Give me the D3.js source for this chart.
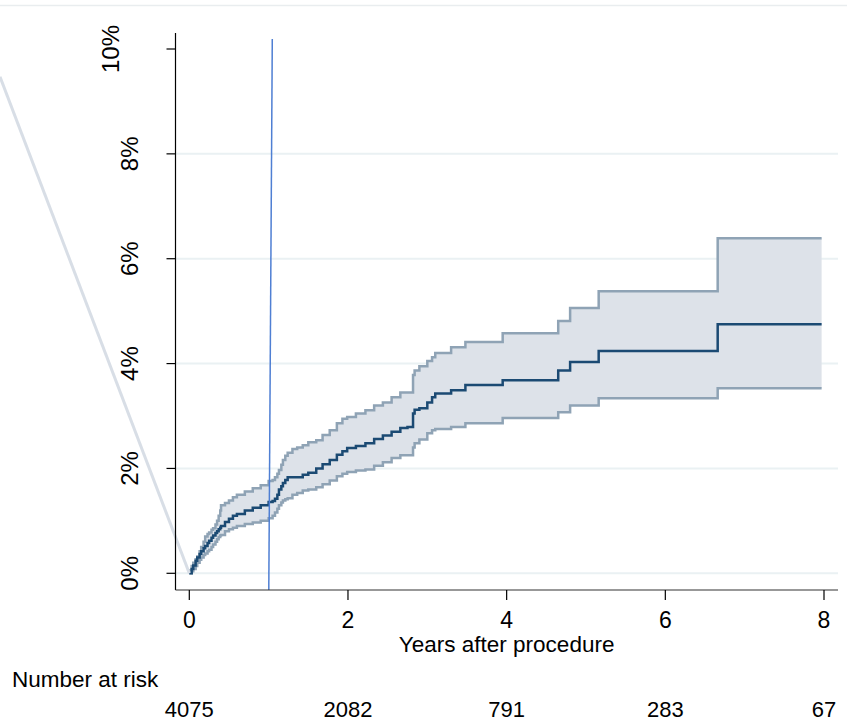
<!DOCTYPE html>
<html>
<head>
<meta charset="utf-8">
<script src="https://cdn.jsdelivr.net/npm/d3@7"></script>
<style>
  body { margin: 0; background: #fff; }
  svg { display: block; }
  text { font-family: "Liberation Sans", Arial, sans-serif; fill: #000; }
</style>
</head>
<body>
<div id="chart"></div>
<script>
// data (years after procedure, cumulative incidence in %)
const times = [0, 0.03, 0.05, 0.08, 0.1, 0.13, 0.15, 0.18, 0.2, 0.23, 0.25, 0.28, 0.3, 0.33, 0.35, 0.37, 0.39, 0.4, 0.45, 0.5, 0.55, 0.6, 0.7, 0.8, 0.9,
  1.0, 1.05, 1.08, 1.11, 1.13, 1.16, 1.18, 1.21, 1.24, 1.3, 1.36, 1.43, 1.5, 1.6, 1.68, 1.77, 1.86, 1.93, 1.99,
  2.1, 2.22, 2.33, 2.44, 2.55, 2.66, 2.75, 2.8, 2.82, 2.84, 2.9, 3.0, 3.06, 3.1, 3.3, 3.48,
  3.95, 4.65, 4.8, 5.16, 6.66, 7.97];
const estimate = [0, 0.08, 0.15, 0.24, 0.3, 0.37, 0.42, 0.48, 0.52, 0.58, 0.62, 0.68, 0.72, 0.77, 0.8, 0.84, 0.87, 0.9, 0.98, 1.04, 1.1, 1.13, 1.2, 1.25, 1.3,
  1.36, 1.38, 1.42, 1.5, 1.6, 1.66, 1.72, 1.78, 1.83, 1.83, 1.83, 1.88, 1.92, 2.0, 2.08, 2.16, 2.26, 2.33, 2.39,
  2.43, 2.48, 2.56, 2.63, 2.7, 2.77, 2.79, 2.79, 3.05, 3.12, 3.15, 3.26, 3.36, 3.43, 3.49, 3.59,
  3.68, 3.87, 4.03, 4.24, 4.75, 4.75];
const upper = [0.06, 0.14, 0.2, 0.27, 0.32, 0.42, 0.5, 0.6, 0.7, 0.75, 0.78, 0.83, 0.86, 0.93, 1.0, 1.1, 1.2, 1.3, 1.34, 1.39, 1.45, 1.5, 1.56, 1.62, 1.68,
  1.76, 1.78, 1.83, 1.9, 1.97, 2.07, 2.16, 2.24, 2.3, 2.37, 2.4, 2.44, 2.5, 2.54, 2.64, 2.73, 2.86, 2.95, 2.98,
  3.05, 3.11, 3.2, 3.26, 3.36, 3.45, 3.45, 3.45, 3.78, 3.87, 3.95, 4.05, 4.12, 4.2, 4.31, 4.41,
  4.58, 4.81, 5.06, 5.38, 6.39, 6.39];
const lower = [0, 0.04, 0.08, 0.14, 0.2, 0.26, 0.3, 0.35, 0.38, 0.42, 0.45, 0.5, 0.55, 0.6, 0.65, 0.69, 0.72, 0.73, 0.8, 0.84, 0.87, 0.9, 0.94, 0.97, 1.0,
  1.05, 1.1, 1.16, 1.23, 1.3, 1.35, 1.39, 1.41, 1.43, 1.5, 1.53, 1.58, 1.6, 1.64, 1.7, 1.77, 1.85, 1.9, 1.93,
  1.96, 1.98, 2.05, 2.12, 2.2, 2.25, 2.25, 2.25, 2.4, 2.48, 2.55, 2.67, 2.73, 2.75, 2.79, 2.86,
  2.96, 3.07, 3.2, 3.34, 3.53, 3.53];

const xTicks = [0, 2, 4, 6, 8];
const yTicks = [0, 2, 4, 6, 8, 10];
const gridTicks = [0, 2, 4, 6, 8];
const atRisk = [4075, 2082, 791, 283, 67];

// stray lines in the original figure
const greyLine = [[-2.386, 9.47], [0, 0]];
const blueLine = [[1.046, 10.19], [1.002, -0.318]];

const width = 847, height = 725;

const svg = d3.select("#chart")
  .append("svg")
    .attr("width", width)
    .attr("height", height);

const x = d3.scaleLinear().domain([0, 8]).range([189.3, 824]);
const y = d3.scaleLinear().domain([0, 10]).range([573.3, 49]);

const plotLeft = 175.5, plotRight = 838, plotTop = 33, plotBottom = 590;

// thin frame line at top
svg.append("line")
  .attr("x1", 0).attr("x2", width)
  .attr("y1", 5.5).attr("y2", 5.5)
  .attr("stroke", "#e9edef")
  .attr("stroke-width", 1.5);

// gridlines
svg.selectAll(".grid")
  .data(gridTicks)
  .join("line")
    .attr("class", "grid")
    .attr("x1", plotLeft).attr("x2", plotRight)
    .attr("y1", d => y(d)).attr("y2", d => y(d))
    .attr("stroke", "#eaf1f3")
    .attr("stroke-width", 2);

const rows = times.map((t, i) => ({t: t, est: estimate[i], lo: lower[i], hi: upper[i]}));

// confidence band
const band = d3.area()
  .curve(d3.curveStepAfter)
  .x(d => x(d.t))
  .y0(d => y(d.lo))
  .y1(d => y(d.hi));

svg.append("path")
  .datum(rows)
  .attr("d", band)
  .attr("fill", "#dde2e9");

const stepLine = key => d3.line()
  .curve(d3.curveStepAfter)
  .x(d => x(d.t))
  .y(d => y(d[key]));

["lo", "hi"].forEach(k => {
  svg.append("path")
    .datum(rows)
    .attr("d", stepLine(k))
    .attr("fill", "none")
    .attr("stroke", "#8fa3b5")
    .attr("stroke-width", 2.5);
});

svg.append("path")
  .datum(rows)
  .attr("d", stepLine("est"))
  .attr("fill", "none")
  .attr("stroke", "#1b4a73")
  .attr("stroke-width", 2.5);

// stray lines
svg.append("path")
  .datum(greyLine)
  .attr("d", d3.line().x(d => x(d[0])).y(d => y(d[1])))
  .attr("stroke", "#d8dee6")
  .attr("stroke-width", 3)
  .attr("fill", "none");

svg.append("path")
  .datum(blueLine)
  .attr("d", d3.line().x(d => x(d[0])).y(d => y(d[1])))
  .attr("stroke", "#4f7fd3")
  .attr("stroke-width", 1.5)
  .attr("fill", "none");

// axes
svg.append("line")
  .attr("x1", plotLeft).attr("x2", plotLeft)
  .attr("y1", plotTop).attr("y2", plotBottom)
  .attr("stroke", "#000").attr("stroke-width", 1.2);

svg.append("line")
  .attr("x1", plotLeft).attr("x2", plotRight)
  .attr("y1", plotBottom).attr("y2", plotBottom)
  .attr("stroke", "#333").attr("stroke-width", 1.2);

svg.selectAll(".ytick")
  .data(yTicks)
  .join("line")
    .attr("x1", plotLeft - 9).attr("x2", plotLeft)
    .attr("y1", d => y(d)).attr("y2", d => y(d))
    .attr("stroke", "#000").attr("stroke-width", 1.2);

svg.selectAll(".xtick")
  .data(xTicks)
  .join("line")
    .attr("x1", d => x(d)).attr("x2", d => x(d))
    .attr("y1", plotBottom).attr("y2", plotBottom + 10)
    .attr("stroke", "#000").attr("stroke-width", 1.2);

// y labels (rotated)
svg.selectAll(".ylab")
  .data(yTicks)
  .join("text")
    .attr("transform", d => `translate(${d === 10 ? 119 : 138},${y(d)}) rotate(-90)`)
    .attr("text-anchor", "middle")
    .style("font-size", "24px")
    .text(d => d + "%");

// x labels
svg.selectAll(".xlab")
  .data(xTicks)
  .join("text")
    .attr("x", d => x(d))
    .attr("y", 628)
    .attr("text-anchor", "middle")
    .style("font-size", "23px")
    .text(d => d);

svg.append("text")
  .attr("x", x(4))
  .attr("y", 652)
  .attr("text-anchor", "middle")
  .style("font-size", "22.5px")
  .text("Years after procedure");

svg.append("text")
  .attr("x", 12)
  .attr("y", 687)
  .style("font-size", "22.5px")
  .text("Number at risk");

svg.selectAll(".risk")
  .data(atRisk)
  .join("text")
    .attr("x", (d, i) => x(xTicks[i]))
    .attr("y", 717)
    .attr("text-anchor", "middle")
    .style("font-size", "22px")
    .text(d => d);
</script>
</body>
</html>
